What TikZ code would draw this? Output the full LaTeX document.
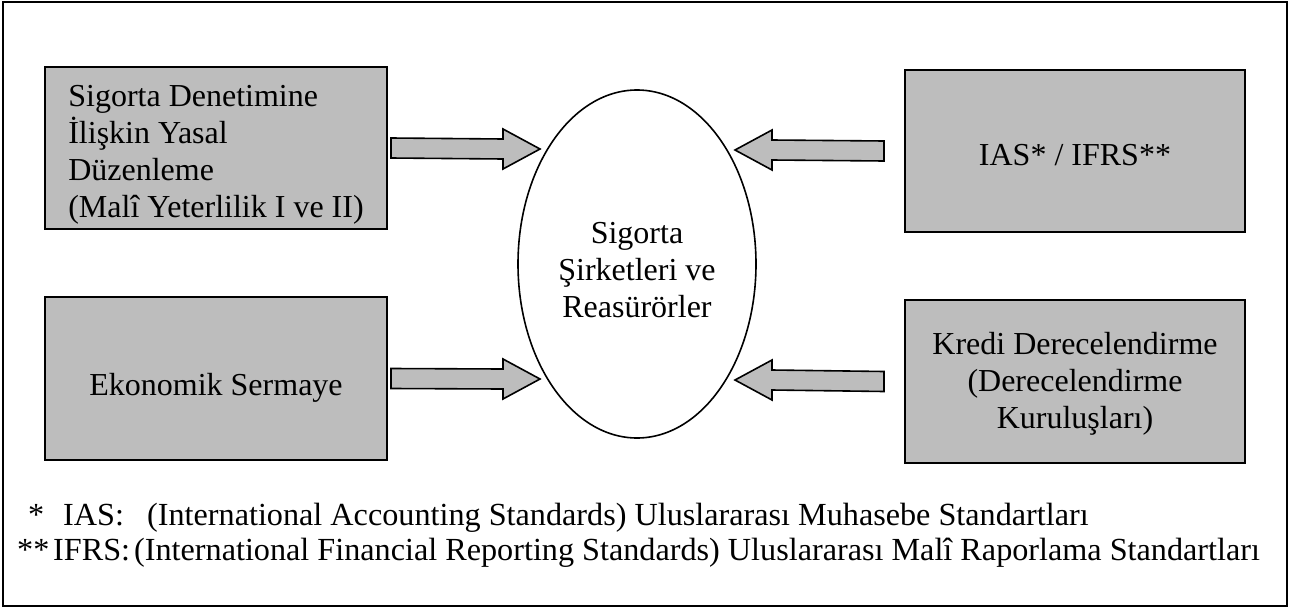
\documentclass[tikz,border=0pt]{standalone}
\usepackage{fontspec}
\setmainfont{Liberation Serif}
\usetikzlibrary{shapes.geometric,calc}
\definecolor{boxgray}{gray}{0.74}
\tikzset{
  graybox/.style={draw=black,line width=2pt,fill=boxgray,rectangle,inner sep=0pt,
    font=\fontsize{32}{37}\selectfont},
  centerel/.style={draw=black,line width=1.6pt,ellipse,inner sep=0pt,
    minimum width=238pt,minimum height=348pt,align=center,
    font=\fontsize{32}{37}\selectfont},
  blockarr/.style={draw=black,line width=1.6pt,fill=boxgray,line join=miter},
  foot/.style={anchor=base west,inner sep=0pt,font=\fontsize{32.2}{35}\selectfont}
}
\newcommand{\topstrut}{\rule{0pt}{34pt}}
\begin{document}
\begin{tikzpicture}[x=1pt,y=-1pt]
\useasboundingbox (0,0) rectangle (1298,610);
\draw[line width=1.5pt] (3,2) rectangle (1287,606);
% boxes
\node[graybox,minimum width=342pt,minimum height=162pt,align=left]
  (tl) at (216,148) {\topstrut Sigorta Denetimine\\İlişkin Yasal\\Düzenleme\\(Malî Yeterlilik I ve II)};
\node[graybox,minimum width=340pt,minimum height=162pt,align=center,text height=31pt,text depth=3pt]
  (tr) at (1075,151) {IAS* / IFRS**};
\node[graybox,minimum width=342pt,minimum height=163pt,align=center,text height=40pt,text depth=7pt]
  (bl) at (216,378.5) {Ekonomik Sermaye};
\node[graybox,minimum width=340pt,minimum height=163pt,align=center]
  (br) at (1075,381.5) {\rule{0pt}{26pt}Kredi Derecelendirme\\(Derecelendirme\\Kuruluşları)};
% center ellipse
\node[centerel] (c) at (637,264) {\topstrut Sigorta\\Şirketleri ve\\Reasürörler};
% arrow tips
\coordinate (t1) at (540,149);
\coordinate (t2) at (735,150);
\coordinate (t3) at (540,379);
\coordinate (t4) at (735,380);
% block arrows (left -> right)
\draw[blockarr] ($(tl.east)+(3,-10)$) -- ($(t1)+(-37,-10)$) -- ($(t1)+(-37,-20)$) -- (t1)
  -- ($(t1)+(-37,20)$) -- ($(t1)+(-37,10)$) -- ($(tl.east)+(3,10)$) -- cycle;
\draw[blockarr] ($(bl.east)+(3,-10)$) -- ($(t3)+(-37,-10)$) -- ($(t3)+(-37,-20)$) -- (t3)
  -- ($(t3)+(-37,20)$) -- ($(t3)+(-37,10)$) -- ($(bl.east)+(3,10)$) -- cycle;
% block arrows (right -> left)
\draw[blockarr] ($(tr.west)+(-20,-10)$) -- ($(t2)+(37,-10)$) -- ($(t2)+(37,-20)$) -- (t2)
  -- ($(t2)+(37,20)$) -- ($(t2)+(37,10)$) -- ($(tr.west)+(-20,10)$) -- cycle;
\draw[blockarr] ($(br.west)+(-20,-10)$) -- ($(t4)+(37,-10)$) -- ($(t4)+(37,-20)$) -- (t4)
  -- ($(t4)+(37,20)$) -- ($(t4)+(37,10)$) -- ($(br.west)+(-20,10)$) -- cycle;
% footnotes
\node[foot] (f1) at (28,525) {\makebox[35pt][l]{*}\makebox[84pt][l]{IAS:}(International Accounting Standards) Uluslararası Muhasebe Standartları};
\node[foot] (f2) at (17,560) {\makebox[36pt][l]{**}IFRS:\hspace{4pt}(International Financial Reporting Standards) Uluslararası Malî Raporlama Standartları};
\end{tikzpicture}
\end{document}
